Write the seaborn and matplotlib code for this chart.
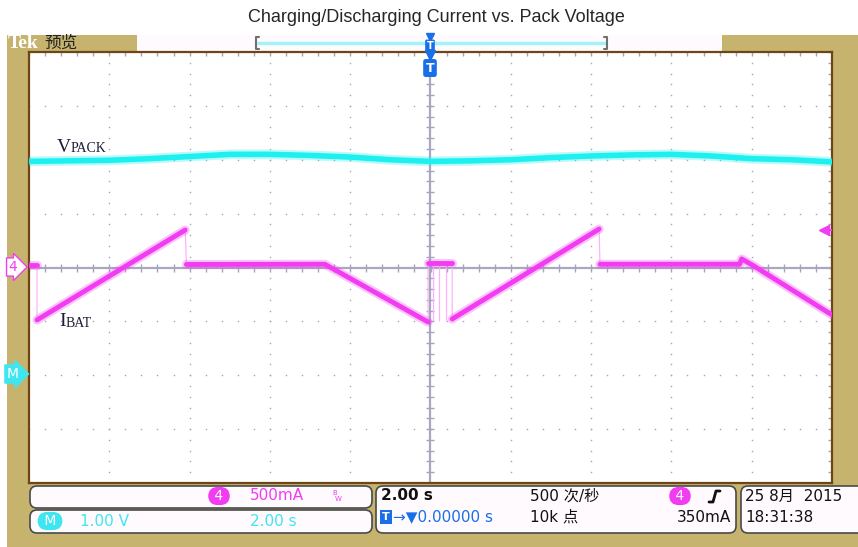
import numpy as np
import pandas as pd
import matplotlib.pyplot as plt
import seaborn as sns
from matplotlib.patches import FancyBboxPatch, Rectangle

sns.set_style("white")
plt.rcParams['font.family'] = ['DejaVu Sans', 'Noto Sans CJK SC']

# -----------------------------
# scope settings
# -----------------------------
sec_per_div = 2.0
ma_per_div = 500.0
v_per_div = 1.0
math_ground_div = -2.0
trig_level_ma = 350.0

# VPACK (math channel), volts
vpack_t = [-10, -9, -8, -7, -6, -5, -4, -3, -2, -1, 0,
           1, 2, 3, 4, 5, 6, 7, 8, 9, 10]
vpack_v = [3.97, 3.98, 3.99, 4.02, 4.06, 4.10, 4.10, 4.08, 4.05, 4.00, 3.97,
           3.98, 4.00, 4.04, 4.07, 4.09, 4.10, 4.07, 4.02, 4.00, 3.96]

# IBAT (channel 4), mA, split in segments between the jumps
ibat_t = [-10.0, -9.80,
          -9.80, -6.11,
          -6.08, -2.63, -0.06,
          -0.06, 0.54,
          0.54, 4.20,
          4.22, 7.70, 7.75, 8.05, 10.0]
ibat_ma = [25, 25,
           -487, 348,
           28, 30, -506,
           42, 42,
           -478, 357,
           30, 30, 80, 15, -440]
ibat_seg = [0, 0, 1, 1, 2, 2, 2, 3, 3, 4, 4, 5, 5, 5, 5, 5]

spike_t = [0.06, 0.21, 0.39]
spike_ma = -500

TAN = "#c6b46e"
MAG = "#f23cf2"
MAG_LIGHT = "#ffb0ff"
CYAN = "#1ef0f0"
CYAN_TXT = "#3fe6f0"
BLUE = "#1a6fe8"
GRID = "#a4a4bc"
BROWN = "#6e4614"
BOXFC = "#fffafd"

fig = plt.figure(figsize=(8.58, 5.47), dpi=100)

# background layer in pixel coordinates
bg = fig.add_axes([0, 0, 1, 1], zorder=0)
bg.set_xlim(0, 858)
bg.set_ylim(547, 0)
bg.axis('off')
bg.add_patch(Rectangle((7, 35), 851, 512, fc=TAN, ec='none'))
bg.add_patch(Rectangle((137, 35), 585, 16, fc=BOXFC, ec='none'))

# -----------------------------
# graticule
# -----------------------------
ax = fig.add_axes([29 / 858, (547 - 483) / 547, 803 / 858, 431 / 547], zorder=1)
ax.set_facecolor("white")
ax.set_xlim(-10, 10)
ax.set_ylim(-4, 4)
ax.set_xticks(np.arange(-10, 10.1, 2))
ax.set_xticks(np.arange(-10, 10.01, 0.4), minor=True)
ax.set_yticks(np.arange(-4, 4.1, 1))
ax.set_yticks(np.arange(-4, 4.01, 0.2), minor=True)
ax.tick_params(which='both', direction='in', top=True, right=True, length=3,
               width=1, color=GRID, labelbottom=False, labelleft=False)
for s in ax.spines.values():
    s.set_color(BROWN)
    s.set_linewidth(1.6)

yy = np.arange(-4, 4.01, 0.2)
xx = np.arange(-10, 10.01, 0.4)
for gx in [-8, -6, -4, -2, 2, 4, 6, 8]:
    ax.plot(np.full(len(yy), gx), yy, ls='none', marker='s', ms=1.0, mew=0, color=GRID)
for gy in [-3, -2, -1, 1, 2, 3]:
    ax.plot(xx, np.full(len(xx), gy), ls='none', marker='s', ms=1.0, mew=0, color=GRID)
ax.axhline(0, color="#a8a8c0", lw=1.6, zorder=1)
ax.axvline(0, color="#a8a8c0", lw=1.6, zorder=1)
ax.plot(xx, np.zeros(len(xx)), ls='none', marker='|', ms=6, mew=1, color=GRID)
ax.plot(np.zeros(len(yy)), yy, ls='none', marker='_', ms=6, mew=1, color=GRID)

# -----------------------------
# traces
# -----------------------------
vdf = pd.DataFrame({"t": vpack_t,
                    "div": np.array(vpack_v) / v_per_div + math_ground_div})
sns.lineplot(data=vdf, x="t", y="div", ax=ax, color=CYAN, lw=7, alpha=0.3,
             estimator=None, sort=False, zorder=3)
sns.lineplot(data=vdf, x="t", y="div", ax=ax, color=CYAN, lw=4,
             estimator=None, sort=False, zorder=4)

idf = pd.DataFrame({"t": ibat_t, "div": np.array(ibat_ma) / ma_per_div, "seg": ibat_seg})
ax.plot(idf["t"], idf["div"], color=MAG_LIGHT, lw=0.9, zorder=3)
ax.vlines(spike_t, spike_ma / ma_per_div, 42 / ma_per_div, color=MAG_LIGHT, lw=0.9, zorder=3)
sns.lineplot(data=idf, x="t", y="div", units="seg", estimator=None, sort=False,
             ax=ax, color=MAG, lw=6.5, alpha=0.3, zorder=4)
sns.lineplot(data=idf, x="t", y="div", units="seg", estimator=None, sort=False,
             ax=ax, color=MAG, lw=3.5, zorder=5)
ax.set_xlabel("")
ax.set_ylabel("")

# trigger level marker
tl = trig_level_ma / ma_per_div
ax.plot([9.75, 10], [tl, tl], color=MAG, lw=1.5, zorder=6)
ax.plot(9.8, tl, marker='<', color=MAG, ms=7, zorder=6)

# -----------------------------
# foreground annotations (pixel coords)
# -----------------------------
fg = fig.add_axes([0, 0, 1, 1], zorder=2)
fg.set_xlim(0, 858)
fg.set_ylim(547, 0)
fg.axis('off')
fg.patch.set_alpha(0)

fig.text(436 / 858, 1 - 18 / 547, "Charging/Discharging Current vs. Pack Voltage",
         ha='center', va='center', fontsize=13, family='Liberation Sans')

# top bar
fg.text(8, 44, "Tek", color='white', fontsize=14, fontweight='bold',
        family='Liberation Serif', va='center', ha='left')
fg.text(44, 43, "预览", color='#222222', fontsize=12, va='center', ha='left',
        family=['Noto Sans CJK SC'])
fg.plot([258, 605], [43, 43], color="#a0f4f8", lw=2.5)
for bx, d in [(256, 1), (607, -1)]:
    fg.plot([bx + 3 * d, bx, bx, bx + 3 * d], [37, 37, 49, 49], color='#707070', lw=1.5)
fg.plot(430, 37, marker='v', color=BLUE, ms=6)
fg.text(430, 46, "T", color='white', fontsize=7, fontweight='bold', ha='center', va='center',
        bbox=dict(boxstyle='round,pad=0.15', fc=BLUE, ec='none'))
fg.plot(430, 55, marker='v', color=BLUE, ms=7)
fg.text(430, 68, "T", color='white', fontsize=9, fontweight='bold', ha='center', va='center',
        bbox=dict(boxstyle='round,pad=0.2', fc=BLUE, ec='none'))

# channel markers on the left
fg.text(13, 267, "4", color=MAG, fontsize=10, ha='center', va='center',
        bbox=dict(boxstyle='rarrow,pad=0.15', fc='white', ec=MAG, lw=1))
fg.text(13, 374, "M", color='white', fontsize=10, ha='center', va='center',
        bbox=dict(boxstyle='rarrow,pad=0.15', fc=CYAN_TXT, ec=CYAN_TXT, lw=1))

# trace labels
LBL = "#1c1c34"
fg.text(57, 147, "V", color=LBL, fontsize=14, family='Liberation Serif', va='center', ha='left')
fg.text(71, 148.5, "PACK", color=LBL, fontsize=10, family='Liberation Serif', va='center', ha='left')
fg.text(59, 322, "I", color=LBL, fontsize=14, family='Liberation Serif', va='center', ha='left')
fg.text(66, 323.5, "BAT", color=LBL, fontsize=10, family='Liberation Serif', va='center', ha='left')

# status boxes
def box(x0, y0, w, h):
    fg.add_patch(FancyBboxPatch((x0, y0), w, h, boxstyle="round,pad=0,rounding_size=7",
                                fc=BOXFC, ec='#4a4a4a', lw=1.2))

box(30, 486, 342, 22)
box(30, 510, 342, 23)
box(376, 486, 360, 47)
box(741, 486, 130, 47)

pill = dict(boxstyle='round,pad=0.15,rounding_size=0.7', ec='none')
fg.text(219, 496, " 4 ", color='white', fontsize=10, ha='center', va='center',
        bbox=dict(fc=MAG, **pill))
fg.text(250, 496, "500mA", color=MAG, fontsize=11, ha='left', va='center')
fg.text(332, 493, "B", color=MAG, fontsize=5, ha='left', va='center')
fg.text(335, 499, "W", color=MAG, fontsize=5, ha='left', va='center')

fg.text(50, 521, " M ", color='white', fontsize=10, ha='center', va='center',
        bbox=dict(fc=CYAN_TXT, **pill))
fg.text(80, 521, "1.00 V", color=CYAN_TXT, fontsize=11, ha='left', va='center')
fg.text(250, 521, "2.00 s", color=CYAN_TXT, fontsize=11, ha='left', va='center')

fg.text(381, 496, "2.00 s", color='#111111', fontsize=11, fontweight='bold', ha='left', va='center')
fg.text(386, 517, "T", color='white', fontsize=8, fontweight='bold', ha='center', va='center',
        bbox=dict(boxstyle='square,pad=0.15', fc=BLUE, ec='none'))
fg.text(393, 517, "→▼0.00000 s", color=BLUE, fontsize=11, ha='left', va='center')
fg.text(530, 496, "500 次/秒", color='#111111', fontsize=11, ha='left', va='center')
fg.text(530, 517, "10k 点", color='#111111', fontsize=11, ha='left', va='center')
fg.text(680, 496, " 4 ", color='white', fontsize=10, ha='center', va='center',
        bbox=dict(fc=MAG, **pill))
fg.plot([709, 713, 716, 720], [502, 502, 491, 491], color='#111111', lw=2)
fg.text(731, 517, "350mA", color='#111111', fontsize=11, ha='right', va='center')

fg.text(745, 496, "25 8月  2015", color='#111111', fontsize=11, ha='left', va='center')
fg.text(745, 517, "18:31:38", color='#111111', fontsize=11, ha='left', va='center')

plt.savefig("out.png", dpi=100)
